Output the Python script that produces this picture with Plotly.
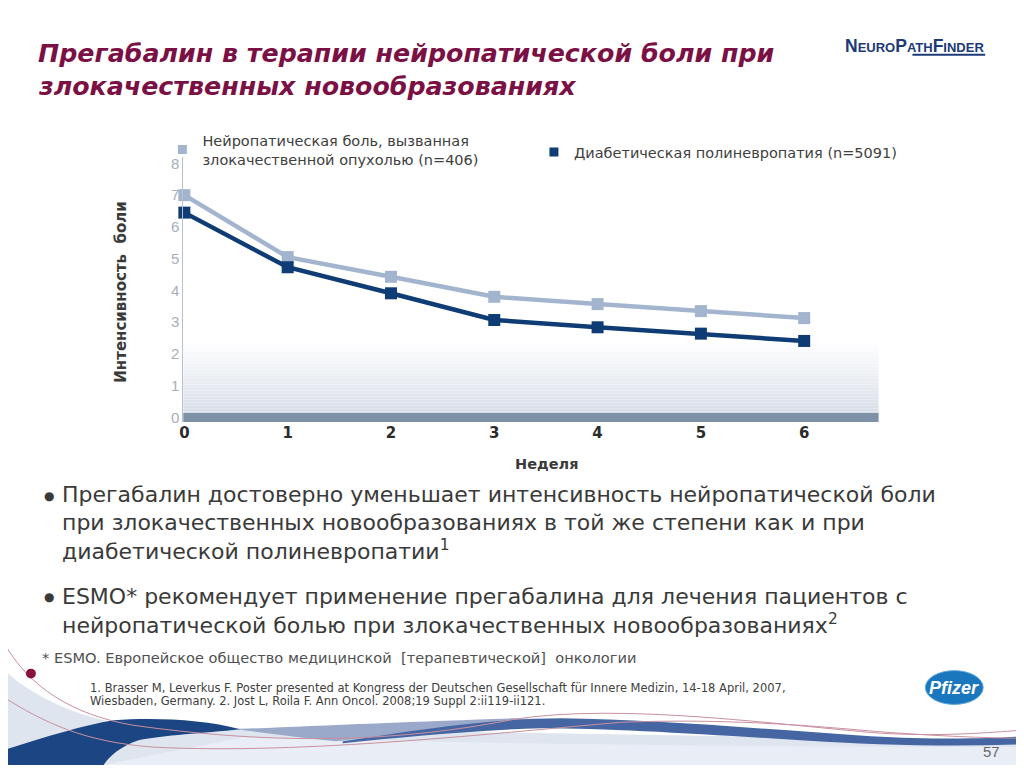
import plotly.graph_objects as go

# ---------------- data ----------------
weeks = [0, 1, 2, 3, 4, 5, 6]
cancer_pain = [7.0, 5.05, 4.43, 3.8, 3.57, 3.35, 3.13]      # n=406
diabetic_pain = [6.45, 4.73, 3.91, 3.07, 2.84, 2.64, 2.41]  # n=5091
y_ticks = [0, 1, 2, 3, 4, 5, 6, 7, 8]
name_cancer = "Нейропатическая боль, вызванная<br>злокачественной опухолью (n=406)"
name_diab = "Диабетическая полиневропатия (n=5091)"

LIGHT = "#a3b5ce"
DARK = "#0f3c75"
MAROON = "#7b1044"
TXT = "#3a3a3a"
FONT = "DejaVu Sans, Verdana, sans-serif"
# page is offset by the 8px body margin; work in viewport pixels
OFF = 8
W, H = 1024 - OFF, 768 - OFF


def px(x, y):
    return (x - OFF) / W, 1 - (y - OFF) / H


def path(cmds):
    out = []
    for c in cmds:
        if isinstance(c, str):
            out.append(c)
        else:
            a, b = px(*c)
            out.append(f"{a:.4f},{b:.4f}")
    return " ".join(out)


fig = go.Figure()

fig.add_trace(go.Scatter(
    x=weeks, y=cancer_pain, mode="lines+markers", showlegend=False,
    line=dict(color=LIGHT, width=4.5),
    marker=dict(symbol="square", size=12, color=LIGHT), cliponaxis=False))
fig.add_trace(go.Scatter(
    x=weeks, y=diabetic_pain, mode="lines+markers", showlegend=False,
    line=dict(color=DARK, width=4.5),
    marker=dict(symbol="square", size=12, color=DARK), cliponaxis=False))

# legend proxies
fig.add_trace(go.Scatter(x=[None], y=[None], mode="markers", name=name_cancer,
                         marker=dict(symbol="square", size=9, color=LIGHT), legend="legend"))
fig.add_trace(go.Scatter(x=[None], y=[None], mode="markers", name=name_diab,
                         marker=dict(symbol="square", size=9, color=DARK), legend="legend2"))

shapes = []
# gradient under the curves
n = 26
top = 2.45
for i in range(n):
    t = i / (n - 1)
    r = int(0xd6 + (255 - 0xd6) * t)
    g = int(0xdc + (255 - 0xdc) * t)
    b = int(0xe8 + (255 - 0xe8) * t)
    shapes.append(dict(type="rect", xref="x domain", yref="y", x0=0, x1=1,
                       y0=top * i / n, y1=top * (i + 1) / n, layer="below",
                       line=dict(width=0), fillcolor=f"rgb({r},{g},{b})"))
# thick base bar at 0
shapes.append(dict(type="line", xref="x domain", yref="y", x0=0, x1=1, y0=0, y1=0,
                   line=dict(color="#7d91a7", width=9), layer="below"))


def deco(cmds, fill=None, line=None):
    d = dict(type="path", xref="paper", yref="paper", layer="below", path=path(cmds))
    if fill:
        d["fillcolor"] = fill
        d["line"] = dict(width=0)
    else:
        d["line"] = dict(color=line, width=1)
    shapes.append(d)


# bottom decoration
deco(["M", (0, 672), "C", (20, 692), (60, 715), (110, 725), "L", (240, 731),
      "L", (1024, 744), "L", (1024, 768), "L", (0, 768), "Z"], fill="#dfe5ef")
deco(["M", (240, 740), "C", (400, 745), (700, 750), (1024, 750), "L", (1024, 768),
      "L", (100, 768), "Z"], fill="#e9edf5")
deco(["M", (233, 732), "C", (300, 729), (420, 724), (512, 721), "L", (540, 722),
      "C", (450, 728), (380, 740), (333, 744), "C", (290, 740), (260, 735), (233, 732), "Z"],
     fill="#9aa9c9")
deco(["M", (340, 744), "C", (420, 732), (490, 721), (560, 721),
      "C", (650, 722), (750, 731), (870, 739), "C", (940, 743), (1000, 741), (1024, 739),
      "L", (1024, 747), "C", (950, 750), (880, 748), (800, 743),
      "C", (700, 737), (610, 731), (540, 731), "C", (470, 733), (400, 740), (340, 746), "Z"],
     fill="#4566a3")
deco(["M", (0, 753), "C", (40, 740), (80, 728), (110, 723), "C", (150, 720), (200, 722), (237, 732),
      "C", (200, 736), (160, 738), (135, 743), "C", (115, 750), (105, 760), (100, 768),
      "L", (0, 768), "Z"], fill="#1c4683")
deco(["M", (0, 645), "C", (25, 690), (70, 718), (130, 728), "C", (300, 752), (420, 740), (512, 722),
      "C", (620, 705), (780, 728), (880, 736), "C", (950, 740), (1000, 734), (1024, 733)],
     line="#c9909e")
deco(["M", (0, 700), "C", (40, 725), (80, 745), (150, 750), "C", (300, 758), (500, 735), (620, 725),
      "C", (750, 720), (850, 733), (900, 736), "C", (960, 740), (1000, 741), (1024, 741)],
     line="#c9909e")
# dot
x0, y0 = px(22, 671)
x1, y1 = px(32, 681)
shapes.append(dict(type="circle", xref="paper", yref="paper", x0=x0, y0=y1, x1=x1, y1=y0,
                   fillcolor="#8a1040", line=dict(width=0)))
# Pfizer oval
x0, y0 = px(925, 673)
x1, y1 = px(983, 707)
shapes.append(dict(type="circle", xref="paper", yref="paper", x0=x0, y0=y1, x1=x1, y1=y0,
                   fillcolor="#1a76bd", line=dict(color="#5aa5dc", width=1)))
# logo underline
x0, y0 = px(912, 53)
x1, _ = px(985, 53)
shapes.append(dict(type="line", xref="paper", yref="paper", x0=x0, x1=x1, y0=y0, y1=y0,
                   line=dict(color="#1c3a78", width=2)))

ann = []


def text(x, y, s, size, color=TXT, bold=False, italic=False, family=FONT,
         xanchor="left", yanchor="middle", align="left", angle=0):
    a, b = px(x, y)
    if bold:
        s = f"<b>{s}</b>"
    if italic:
        s = f"<i>{s}</i>"
    ann.append(dict(x=a, y=b, xref="paper", yref="paper", text=s, showarrow=False,
                    xanchor=xanchor, yanchor=yanchor, align=align, textangle=angle,
                    font=dict(size=size, color=color, family=family)))


text(32, 52, "Прегабалин в терапии нейропатической боли при", 25.3, MAROON, bold=True, italic=True)
text(32, 85, "злокачественных новообразованиях", 25.3, MAROON, bold=True, italic=True)
text(842, 44, "N<span style='font-size:13px'>EURO</span>P<span style='font-size:13px'>ATH</span>"
     "F<span style='font-size:13px'>INDER</span>", 17.5, "#1c3a78", bold=True,
     family="Liberation Sans, Arial")

# axis titles
text(118, 292, "Интенсивность  боли", 15, TXT, bold=True, xanchor="center", angle=-90)
text(545, 465, "Неделя", 14.5, TXT, bold=True, xanchor="center")

# bullets
text(38, 497, "●", 12, TXT)
text(56, 496, "Прегабалин достоверно уменьшает интенсивность нейропатической боли", 22, TXT)
text(56, 524, "при злокачественных новообразованиях в той же степени как и при", 22, TXT)
text(56, 552, "диабетической полиневропатии<sup>1</sup>", 22, TXT)
text(38, 599, "●", 12, TXT)
text(56, 598, "ESMO* рекомендует применение прегабалина для лечения пациентов с", 22, TXT)
text(56, 626, "нейропатической болью при злокачественных новообразованиях<sup>2</sup>", 22, TXT)
text(36, 660, "* ESMO. Европейское общество медицинской  [терапевтической]  онкологии", 14.6, "#505050")
text(84, 690, "1. Brasser M, Leverkus F. Poster presented at Kongress der Deutschen Gesellschaft für "
     "Innere Medizin, 14-18 April, 2007,", 11.5, "#404040")
text(84, 704, "Wiesbaden, Germany. 2. Jost L, Roila F. Ann Oncol. 2008;19 Suppl 2:ii119-ii121.",
     11.5, "#404040")
text(954, 690, "Pfizer", 18, "white", bold=True, italic=True, xanchor="center",
     family="Liberation Sans, Arial")
text(1002, 754, "57", 15, "#6a6a6a", xanchor="right", family="Liberation Sans, Arial")

fig.update_layout(
    width=W, height=H, margin=dict(l=0, r=0, t=0, b=0),
    paper_bgcolor="white", plot_bgcolor="rgba(0,0,0,0)",
    shapes=shapes, annotations=ann,
    xaxis=dict(domain=[px(180, 0)[0], px(878, 0)[0]], range=[-0.01, 6.72], tickvals=weeks,
               showgrid=False, zeroline=False, showline=False, ticks="",
               tickfont=dict(size=15, color="#2b2b2b", family=FONT, weight="bold")),
    yaxis=dict(domain=[px(0, 423)[1], px(0, 156)[1]], range=[-0.15, 8.2], tickvals=y_ticks,
               showgrid=False, zeroline=False, showline=True, linecolor="#b9c0cb", linewidth=1,
               ticks="", tickfont=dict(size=15, color="#a7aeb9", family="Liberation Sans, Arial")),
    legend=dict(x=px(159, 0)[0], y=px(0, 123)[1], xanchor="left", yanchor="top", orientation="v",
                bgcolor="rgba(0,0,0,0)", font=dict(size=14.5, color="#404040", family=FONT)),
    legend2=dict(x=px(532, 0)[0], y=px(0, 135)[1], xanchor="left", yanchor="top", orientation="v",
                 bgcolor="rgba(0,0,0,0)", font=dict(size=14.5, color="#404040", family=FONT)),
)

fig.write_html("out.html")
